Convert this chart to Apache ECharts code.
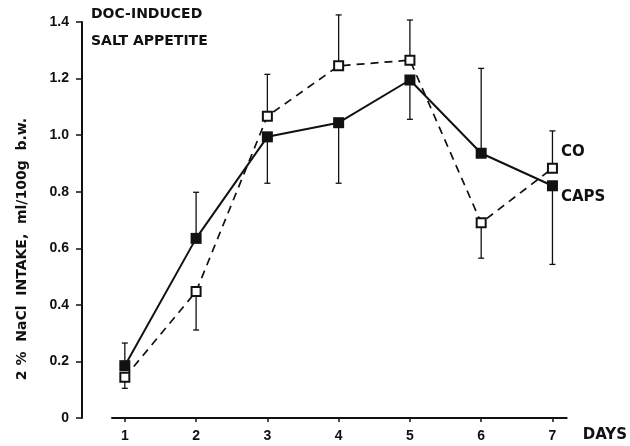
<!DOCTYPE html>
<html>
<head>
<meta charset="utf-8">
<script src="https://cdn.jsdelivr.net/npm/echarts@6/dist/echarts.min.js"></script>
<style>
html,body{margin:0;padding:0;background:#fff;}
#main{width:630px;height:446px;}
</style>
</head>
<body>
<div id="main"></div>
<script>
// days and group means (ml/100g b.w.)
var days = [1, 2, 3, 4, 5, 6, 7];
var capsMean = [0.185, 0.635, 0.994, 1.044, 1.195, 0.936, 0.821];
var coMean = [0.144, 0.447, 1.067, 1.245, 1.265, 0.69, 0.883];
// one-sided error bars: value where the bar ends
var capsBarEnd = [0.265, 0.798, 0.83, 0.83, 1.056, 1.236, 0.543];
var coBarEnd = [0.105, 0.311, 1.215, 1.425, 1.407, 0.565, 1.015];
var yTicks = [0, 0.2, 0.4, 0.6, 0.8, 1.0, 1.2, 1.4];

var FONT = "'Liberation Sans', Arial, sans-serif";
var HEAVY = "'DejaVu Sans', sans-serif";
var myChart = echarts.init(document.getElementById('main'));

function pairs(xs, ys){
	var ret = [];
	for (var i = 0; i < xs.length; i++) ret.push([xs[i], ys[i]]);
	return ret;
}
function errData(){
	var ret = [];
	for (var i = 0; i < days.length; i++){
		ret.push([days[i], capsMean[i], capsBarEnd[i]]);
		ret.push([days[i], coMean[i], coBarEnd[i]]);
	}
	return ret;
}
function renderErr(params, api){
	var a = api.coord([api.value(0), api.value(1)]);
	var b = api.coord([api.value(0), api.value(2)]);
	var w = 3;
	var st = {stroke:'#111', lineWidth:1.3};
	return {
		type:'group',
		children:[
			{type:'line', shape:{x1:a[0], y1:a[1], x2:b[0], y2:b[1]}, style:st},
			{type:'line', shape:{x1:b[0]-w, y1:b[1], x2:b[0]+w, y2:b[1]}, style:st}
		]
	};
}

option = {
	animation:false,
	backgroundColor:'#fff',
	grid:[
		{left:82, right:48, top:22, bottom:28},
		{left:112, right:63, top:22, bottom:28}
	],
	xAxis:[
		{gridIndex:0, type:'value', min:0, max:1, show:false},
		{
			gridIndex:1, type:'value', min:0.82, max:7.2,
			splitLine:{show:false},
			axisLine:{lineStyle:{color:'#111', width:2}},
			axisTick:{inside:false, length:4, customValues:days, lineStyle:{color:'#111', width:1.5}},
			axisLabel:{customValues:days, color:'#111', fontFamily:FONT, fontWeight:'bold', fontSize:14, margin:11},
			name:'DAYS', nameLocation:'end', nameGap:16,
			nameTextStyle:{fontFamily:HEAVY, fontWeight:'bold', fontSize:15, color:'#111', verticalAlign:'top', padding:[10,0,0,0]}
		}
	],
	yAxis:[
		{
			gridIndex:0, type:'value', min:0, max:1.4,
			splitLine:{show:false},
			axisLine:{show:true, lineStyle:{color:'#111', width:2}},
			axisTick:{length:6, customValues:yTicks, lineStyle:{color:'#111', width:1.5}},
			axisLabel:{customValues:yTicks, color:'#111', fontFamily:FONT, fontWeight:'bold', fontSize:14, margin:13,
				formatter:function(v){ return v === 0 ? '0' : v.toFixed(1); }},
			name:''
		},
		{gridIndex:1, type:'value', min:0, max:1.4, show:false}
	],
	graphic:[
		{type:'text', x:91, y:14, style:{text:'DOC-INDUCED', font:'bold 14px ' + HEAVY, fill:'#111', verticalAlign:'middle'}},
		{type:'text', x:91, y:41, style:{text:'SALT APPETITE', font:'bold 14px ' + HEAVY, fill:'#111', verticalAlign:'middle'}},
		{type:'text', x:22, y:249, rotation:Math.PI/2,
			style:{text:'2 %  NaCl  INTAKE,  ml/100g  b.w.', font:'bold 14px ' + HEAVY, fill:'#111', align:'center', verticalAlign:'middle'}},
		{type:'text', x:561, y:152, style:{text:'CO', font:'bold 15px ' + HEAVY, fill:'#111', verticalAlign:'middle'}},
		{type:'text', x:561, y:197, style:{text:'CAPS', font:'bold 15px ' + HEAVY, fill:'#111', verticalAlign:'middle'}}
	],
	series:[
		{
			name:'err', type:'custom', xAxisIndex:1, yAxisIndex:1,
			renderItem:renderErr, data:errData(), z:1
		},
		{
			name:'CO', type:'line', xAxisIndex:1, yAxisIndex:1,
			data:pairs(days, coMean),
			symbol:'rect', symbolSize:9,
			lineStyle:{color:'#111', width:1.7, type:[8,6]},
			itemStyle:{color:'#fff', borderColor:'#111', borderWidth:2},
			z:3
		},
		{
			name:'CAPS', type:'line', xAxisIndex:1, yAxisIndex:1,
			data:pairs(days, capsMean),
			symbol:'rect', symbolSize:11,
			lineStyle:{color:'#111', width:2},
			itemStyle:{color:'#111', borderColor:'#111', borderWidth:0},
			z:4
		}
	]
};
myChart.setOption(option);
</script>
</body>
</html>
